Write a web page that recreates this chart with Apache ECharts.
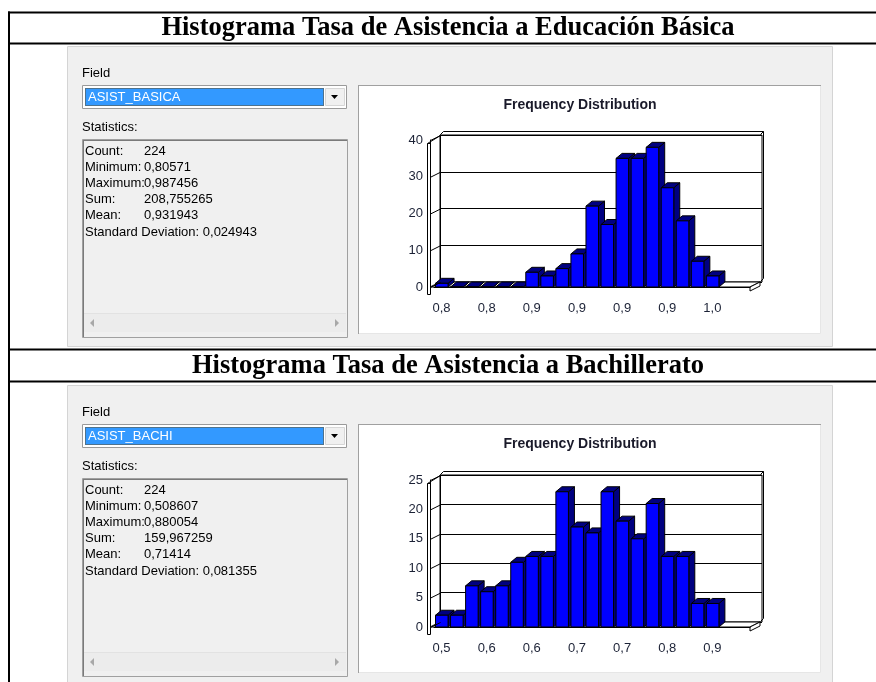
<!DOCTYPE html>
<html>
<head>
<meta charset="utf-8">
<script src="https://cdn.jsdelivr.net/npm/echarts@6/dist/echarts.min.js"></script>
<style>
  html, body { margin: 0; padding: 0; background: #fff; }
  #chart { width: 876px; height: 682px; }
</style>
</head>
<body>
<div id="chart"></div>
<script>
// histogram counts per bin (19 bins, 21 slots on the axis)
const basicaCounts = [1, 0, 0, 0, 0, 0, 4, 3, 5, 9, 22, 17, 35, 35, 38, 27, 18, 7, 3]
const bachiCounts = [2, 2, 7, 6, 7, 11, 12, 12, 23, 17, 16, 23, 18, 15, 21, 12, 12, 4, 4]
const basicaTicks = ['0,8', '0,8', '0,9', '0,9', '0,9', '0,9', '1,0']
const bachiTicks = ['0,5', '0,6', '0,6', '0,7', '0,7', '0,8', '0,9']
const basicaYMax = 40, basicaYStep = 10
const bachiYMax = 25, bachiYStep = 5
const slotCount = 21

const titles = ['Histograma Tasa de Asistencia a Educación Básica', 'Histograma Tasa de Asistencia a Bachillerato']
const fields = ['ASIST_BASICA', 'ASIST_BACHI']
const statLabels = ['Count:', 'Minimum:', 'Maximum:', 'Sum:', 'Mean:']
const basicaStats = ['224', '0,80571', '0,987456', '208,755265', '0,931943']
const bachiStats = ['224', '0,508607', '0,880054', '159,967259', '0,71414']
const basicaStd = '0,024943'
const bachiStd = '0,081355'

const SANS = '"Liberation Sans", Arial, sans-serif'
const SERIF = '"Liberation Serif", "Times New Roman", serif'
const UI = '13px ' + SANS

// every third slot carries a tick label
const slotLabels = ticks => Array.from({ length: slotCount }, (_, i) => (i % 3 === 0 ? ticks[i / 3] : ''))

const G = []
const rect = (x, y, w, h, fill, stroke, z, extra) => G.push(Object.assign({
    type: 'rect', silent: true, z: z || 0,
    shape: { x, y, width: w, height: h },
    style: { fill: fill || 'none', stroke: stroke || null, lineWidth: 1 }
}, extra || {}))
const line = (x1, y1, x2, y2, color, width, z) => G.push({
    type: 'line', silent: true, z: z || 0,
    shape: { x1, y1, x2, y2 },
    style: { stroke: color, lineWidth: width || 1 }
})
const poly = (points, fill, stroke, z) => G.push({
    type: 'polygon', silent: true, z: z || 0,
    shape: { points },
    style: { fill: fill, stroke: stroke || null, lineWidth: 1 }
})
const pline = (points, stroke, z) => G.push({
    type: 'polyline', silent: true, z: z || 0,
    shape: { points },
    style: { stroke: stroke, lineWidth: 1, fill: null }
})
const text = (x, y, str, font, color, align, z) => G.push({
    type: 'text', silent: true, z: z || 5, x, y,
    style: { text: str, font, fill: color || '#000', textAlign: align || 'left', textVerticalAlign: 'middle' }
})

// table frame
line(8, 12.5, 876, 12.5, '#000', 2, 6)
line(8, 43.5, 876, 43.5, '#000', 2, 6)
line(8, 349.5, 876, 349.5, '#000', 2, 6)
line(8, 381.5, 876, 381.5, '#000', 2, 6)
line(9, 11.5, 9, 682, '#000', 2, 6)
text(448, 28.5, titles[0], 'bold 26.5px ' + SERIF, '#000', 'center')
text(448, 366, titles[1], 'bold 26.5px ' + SERIF, '#000', 'center')

// front plot geometry (front grid) and 3d wall depth
const PL = 434, PW = 316, PH = 147, DX = 6, DY = 5
const plotTops = [140, 480]

function dialog(oy, field, stats, std) {
    rect(67.5, 46.5 + oy, 765, 300, '#f0f0f0', '#d4d4d4', 0)
    text(82, 73 + oy, 'Field', UI)
    // combo box
    rect(82.5, 85.5 + oy, 264, 23, '#fff', '#9a9a9a', 0)
    rect(85, 88 + oy, 239, 18, '#3399ff', null, 0)
    rect(85.5, 88.5 + oy, 238, 17, null, '#6b4a1a', 0, { style: { fill: 'none', stroke: '#6b4a1a', lineWidth: 1, lineDash: [1, 1] } })
    text(88, 97.5 + oy, field, UI, '#fff')
    rect(325.5, 88.5 + oy, 19, 17, '#f0f0f0', '#d6d6d6', 0)
    poly([[331, 95 + oy], [338, 95 + oy], [334.5, 99 + oy]], '#000', null, 0)
    text(82, 127 + oy, 'Statistics:', UI)
    // statistics box
    rect(82.5, 139.5 + oy, 265, 198, '#f0f0f0', '#a0a0a0', 0)
    line(83.5, 140 + oy, 83.5, 337 + oy, '#7a7a7a', 1, 0)
    line(83, 140.5 + oy, 347, 140.5 + oy, '#7a7a7a', 1, 0)
    rect(84, 314 + oy, 262, 18, '#ececec', null, 0)
    line(84, 313.5 + oy, 346, 313.5 + oy, '#e2e2e2', 1, 0)
    poly([[94, 319 + oy], [94, 327 + oy], [90, 323 + oy]], '#a8a8a8', null, 0)
    poly([[335, 319 + oy], [335, 327 + oy], [339, 323 + oy]], '#a8a8a8', null, 0)
    statLabels.forEach((lab, i) => {
        text(85, 151 + oy + i * 16.2, lab, UI)
        text(144, 151 + oy + i * 16.2, stats[i], UI)
    })
    text(85, 151 + oy + 5 * 16.2, 'Standard Deviation: ' + std, UI)
    // chart box
    rect(358.5, 85.5 + oy, 462, 248, '#fff', '#e6e6e6', 0)
    line(358.5, 85 + oy, 358.5, 334 + oy, '#a0a0a0', 1, 0)
    line(358, 85.5 + oy, 821, 85.5 + oy, '#a0a0a0', 1, 0)
    text(580, 105 + oy, 'Frequency Distribution', 'bold 14px ' + SANS, '#1a1a2a', 'center')
}

function walls(top, max, step) {
    const B = top + PH
    const L = 430, R = PL + PW
    // left wall slab and tick diagonals
    rect(427.5, top + 3.5, 3, PH + 4, '#fff', '#000', 4)
    for (let v = 0; v <= max; v += step) {
        const y = top + PH - v / max * PH
        line(430.5, y + 0.5, 440.5, y - DY + 0.5, '#000', 1, 4)
    }
    // floor slab
    poly([[L, B], [L + 10, B - DY], [R + 10, B - DY], [R, B]], '#fff', '#000', 2)
    poly([[R, B], [R + 10, B - DY], [R + 10, B - DY + 4], [R, B + 4]], '#fff', '#000', 2)
    // top / right frame thickness
    line(427.5, top + 3.5, 440.5, top - DY + 0.5, '#000', 1, 4)
    pline([[443.5, top - 8.5], [R + 13.5, top - 8.5], [R + 13.5, B - 8.5], [R + 10.5, B - 5.5]], '#000', 4)
    line(440.5, top - 5.5, 443.5, top - 8.5, '#000', 1, 4)
    line(R + 10.5, top - 5.5, R + 13.5, top - 8.5, '#000', 1, 4)
}

dialog(0, fields[0], basicaStats, basicaStd)
dialog(339, fields[1], bachiStats, bachiStd)
walls(plotTops[0], basicaYMax, basicaYStep)
walls(plotTops[1], bachiYMax, bachiYStep)

function bar3d(params, api) {
    const i = api.value(0)
    const v = api.value(1)
    const base = api.coord([i, 0])
    const top = api.coord([i, v])
    const slot = api.size([1, 0])[0]
    const x0 = base[0] - slot / 2 + 1.5
    const w = slot - 2.5
    const y0 = base[1], y1 = top[1]
    const dark = { fill: '#000080', stroke: '#000', lineWidth: 1 }
    return {
        type: 'group',
        children: [
            { type: 'polygon', shape: { points: [[x0 + w, y1], [x0 + w + DX, y1 - DY], [x0 + w + DX, y0 - DY], [x0 + w, y0]] }, style: dark },
            { type: 'polygon', shape: { points: [[x0, y1], [x0 + DX, y1 - DY], [x0 + w + DX, y1 - DY], [x0 + w, y1]] }, style: dark },
            { type: 'rect', shape: { x: x0, y: y1, width: w, height: y0 - y1 }, style: { fill: '#0000ff', stroke: '#000', lineWidth: 1 } }
        ]
    }
}

const labelStyle = { color: '#1c2236', fontSize: 13, fontFamily: SANS }

const grids = [], xAxes = [], yAxes = [], series = []
function histogram(k, counts, ticks, max, step) {
    const top = plotTops[k]
    const front = grids.length
    grids.push({ left: PL, top: top, width: PW, height: PH, z: 3 })
    grids.push({ left: 440, top: top - DY, width: PW + 6, height: PH, show: true, borderColor: '#000', borderWidth: 1, z: 1 })
    const cats = slotLabels(ticks)
    xAxes.push({
        gridIndex: front, type: 'category', data: cats, boundaryGap: true, offset: 4, z: 4,
        axisLine: { lineStyle: { color: '#000', width: 1 } },
        axisTick: { interval: 2, inside: true, length: 4, lineStyle: { color: '#000' } },
        axisLabel: Object.assign({ interval: 0, margin: 11 }, labelStyle)
    })
    xAxes.push({ gridIndex: front + 1, type: 'category', data: cats, show: false })
    yAxes.push({
        gridIndex: front, type: 'value', min: 0, max: max, interval: step, offset: 4, z: 4,
        axisLine: { show: true, lineStyle: { color: '#000' } },
        axisTick: { show: false },
        splitLine: { show: false },
        axisLabel: Object.assign({ margin: 7 }, labelStyle)
    })
    yAxes.push({
        gridIndex: front + 1, type: 'value', min: 0, max: max, interval: step, z: 1,
        axisLine: { show: true, lineStyle: { color: '#000' } },
        axisTick: { show: false },
        axisLabel: { show: false },
        splitLine: { show: true, lineStyle: { color: '#000', width: 1 } }
    })
    series.push({
        type: 'custom', xAxisIndex: front, yAxisIndex: front, z: 3, clip: false,
        renderItem: bar3d,
        encode: { x: 0, y: 1 },
        data: counts.map((v, i) => [i, v])
    })
}
histogram(0, basicaCounts, basicaTicks, basicaYMax, basicaYStep)
histogram(1, bachiCounts, bachiTicks, bachiYMax, bachiYStep)

const chart = echarts.init(document.getElementById('chart'))
chart.setOption({
    animation: false,
    backgroundColor: '#fff',
    graphic: G,
    grid: grids,
    xAxis: xAxes,
    yAxis: yAxes,
    series: series
})
window.addEventListener('resize', () => chart.resize())
</script>
</body>
</html>
